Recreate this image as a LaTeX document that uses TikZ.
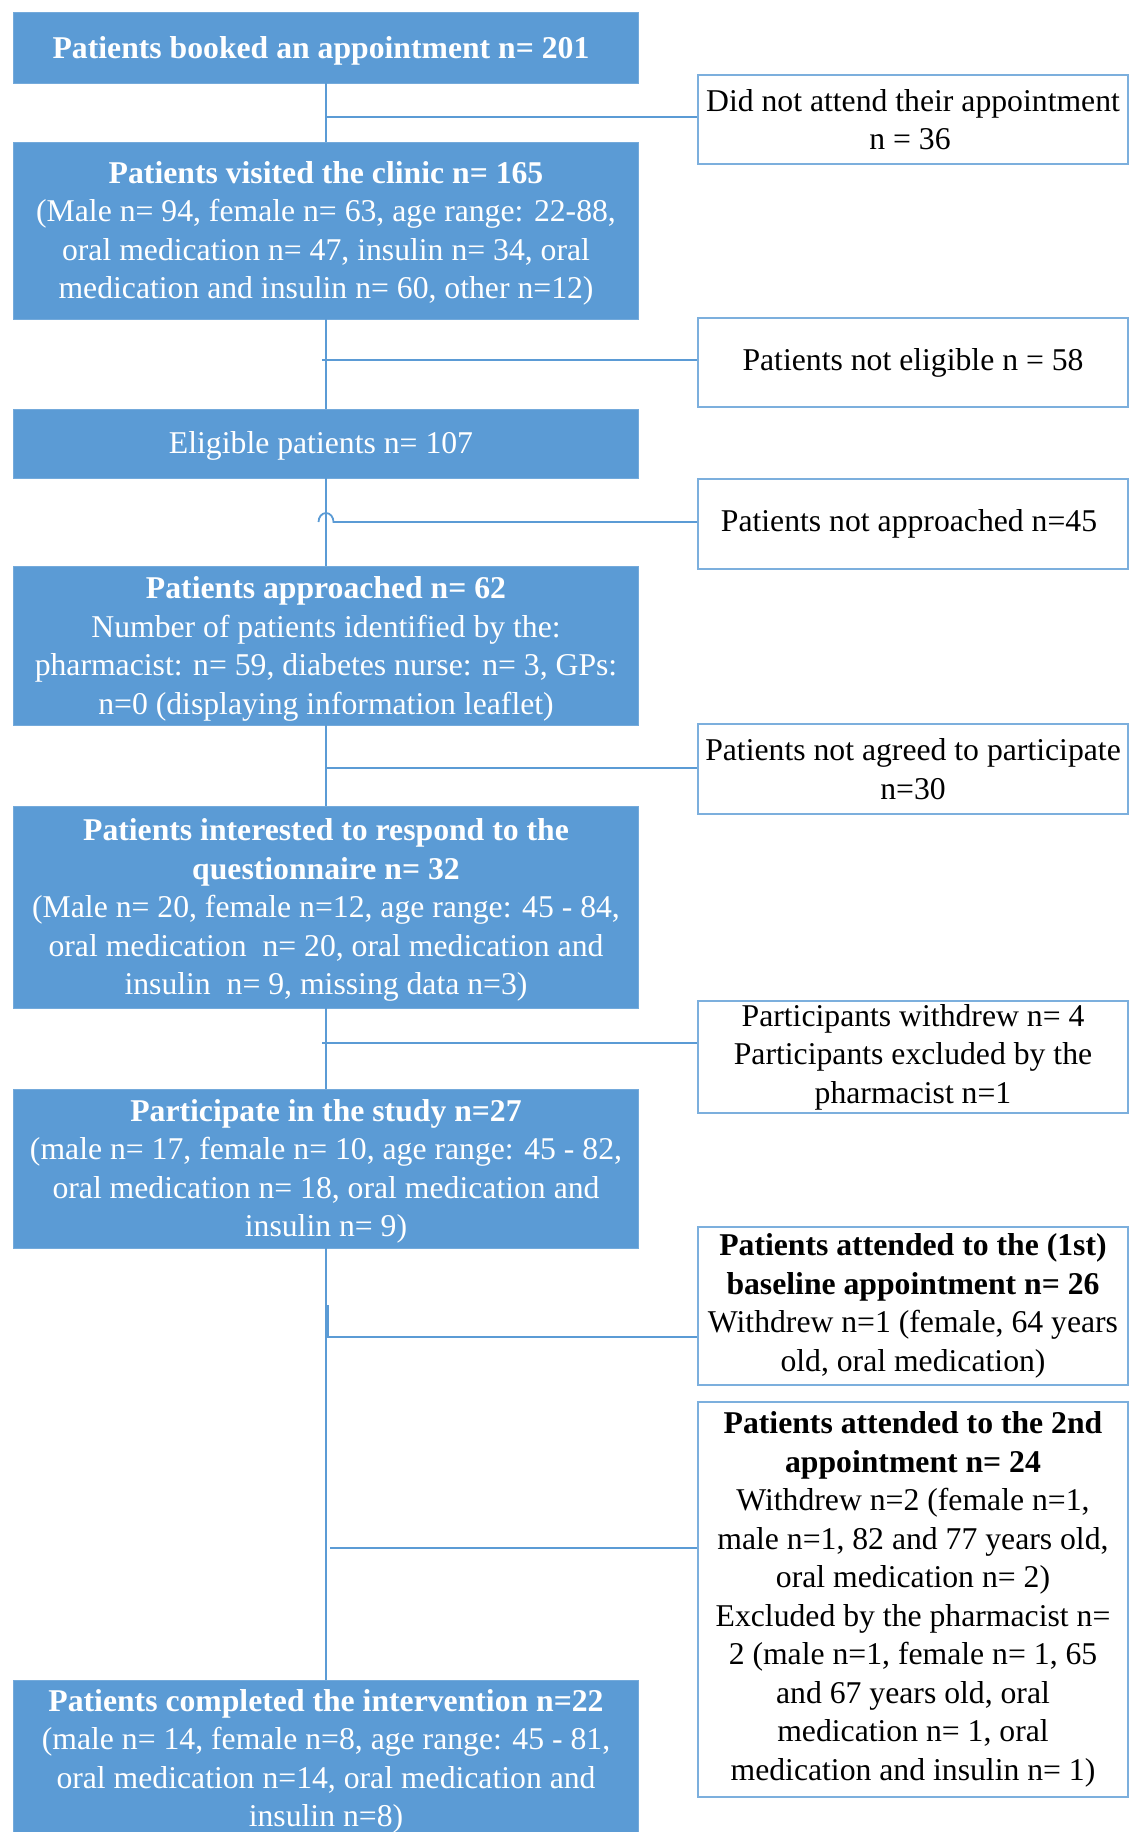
\documentclass[tikz,border=0pt]{standalone}
\usepackage{fontspec}
\setmainfont{Liberation Serif}
\definecolor{flowblue}{HTML}{5B9BD5}
\begin{document}
\begin{tikzpicture}[x=1pt,y=-1pt,
  txt/.style={font=\fontsize{31.7}{38.5}\selectfont, align=center, inner sep=0pt},
  stage/.style={rectangle, fill=flowblue, draw=flowblue!85!white, line width=0.8pt,
                minimum width=625pt, inner sep=0pt},
  stagetext/.style={txt, text=white},
  side/.style={txt, rectangle, fill=white, draw=flowblue!80!white, line width=1.8pt,
               text=black, minimum width=430pt},
  link/.style={draw=flowblue, line width=1.8pt}]
\useasboundingbox (0,0) rectangle (1131,1832);
\clip (0,0) rectangle (1131,1832);

% main stages: filled boxes
\node[stage, minimum height=71pt]  (b1) at (326,47.5) {};
\node[stage, minimum height=177pt] (b2) at (326,230.5) {};
\node[stage, minimum height=69pt]  (b3) at (326,443.5) {};
\node[stage, minimum height=159pt] (b4) at (326,645.5) {};
\node[stage, minimum height=202pt] (b5) at (326,907) {};
\node[stage, minimum height=159pt] (b6) at (326,1168.5) {};
\node[stage, minimum height=156pt] (b7) at (326,1758) {};

% main stages: texts
\node[stagetext] (t1) at ([xshift=-5pt,yshift=-3pt]b1.center)
  {\textbf{Patients booked an appointment n= 201}};
\node[stagetext] (t2) at ([yshift=-3pt]b2.center)
  {\textbf{Patients visited the clinic n= 165}\\
   (Male n= 94, female n= 63, age range: 22-88,\\
   oral medication n= 47, insulin n= 34, oral\\
   medication and insulin n= 60, other n=12)};
\node[stagetext] (t3) at ([xshift=-5pt,yshift=-2pt]b3.center)
  {Eligible patients n= 107};
\node[stagetext] (t4) at ([yshift=-3.5pt]b4.center)
  {\textbf{Patients approached n= 62}\\
   Number of patients identified by the:\\
   pharmacist: n= 59, diabetes nurse: n= 3, GPs:\\
   n=0 (displaying information leaflet)};
\node[stagetext] (t5) at ([yshift=-3pt]b5.center)
  {\textbf{Patients interested to respond to the}\\
   \textbf{questionnaire n= 32}\\
   (Male n= 20, female n=12, age range: 45 - 84,\\
   oral medication\ \ n= 20, oral medication and\\
   insulin\ \ n= 9, missing data n=3)};
\node[stagetext] (t6) at ([yshift=-3pt]b6.center)
  {\textbf{Participate in the study n=27}\\
   (male n= 17, female n= 10, age range: 45 - 82,\\
   oral medication n= 18, oral medication and\\
   insulin n= 9)};
\node[stagetext] (t7) at ([yshift=-3.5pt]b7.center)
  {\textbf{Patients completed the intervention n=22}\\
   (male n= 14, female n=8, age range: 45 - 81,\\
   oral medication n=14, oral medication and\\
   insulin n=8)};

% side boxes
\node[side, minimum height=89pt] (r1) at (913,119.5)
  {Did not attend their appointment\\ n = 36\hspace*{6pt}};
\node[side, minimum height=89pt] (r2) at (913,362.5)
  {Patients not eligible n = 58};
\node[side, minimum height=90pt] (r3) at (913,524)
  {Patients not approached n=45\hspace*{8pt}};
\node[side, minimum height=90pt] (r4) at (913,769)
  {Patients not agreed to participate\\ n=30};
\node[side, minimum height=112pt] (r5) at (913,1057)
  {Participants withdrew n= 4\\
   Participants excluded by the\\
   pharmacist n=1};
\node[side, minimum height=158pt] (r6) at (913,1306)
  {\textbf{Patients attended to the (1st)}\\
   \textbf{baseline appointment n= 26}\\
   Withdrew n=1 (female, 64 years\\
   old, oral medication)};
\node[side, minimum height=395pt] (r7) at (913,1599.5)
  {\textbf{Patients attended to the 2nd}\\
   \textbf{appointment n= 24}\\
   Withdrew n=2 (female n=1,\\
   male n=1, 82 and 77 years old,\\
   oral medication n= 2)\\
   Excluded by the pharmacist n=\\
   2 (male n=1, female n= 1, 65\\
   and 67 years old, oral\\
   medication n= 1, oral\\
   medication and insulin n= 1)};

% vertical trunk
\draw[link] (b1.south) -- (b2.north);
\draw[link] (b2.south) -- (b3.north);
\draw[link] (b3.south) -- (b4.north);
\draw[link] (b4.south) -- (b5.north);
\draw[link] (b5.south) -- (b6.north);
\draw[link] (b6.south) -- (b7.north);

% branch points on the trunk
\coordinate (j1) at (326,117);
\coordinate (j2) at (322,360);
\coordinate (j3) at (333.5,522);
\coordinate (j4) at (326,768);
\coordinate (j5) at (322,1043);
\coordinate (j6a) at (328,1305);
\coordinate (j6) at (328,1337);
\coordinate (j7) at (330,1548);

% side branches
\draw[link] (j1) -- (j1 -| r1.west);
\draw[link] (j2) -- (j2 -| r2.west);
\draw[link] (r3.west |- j3) -- (j3) arc[start angle=0, end angle=180, x radius=7.5pt, y radius=9pt];
\draw[link] (j4) -- (j4 -| r4.west);
\draw[link] (j5) -- (j5 -| r5.west);
\draw[link] (j6a) -- (j6) -- (j6 -| r6.west);
\draw[link] (j7) -- (j7 -| r7.west);
\end{tikzpicture}
\end{document}
